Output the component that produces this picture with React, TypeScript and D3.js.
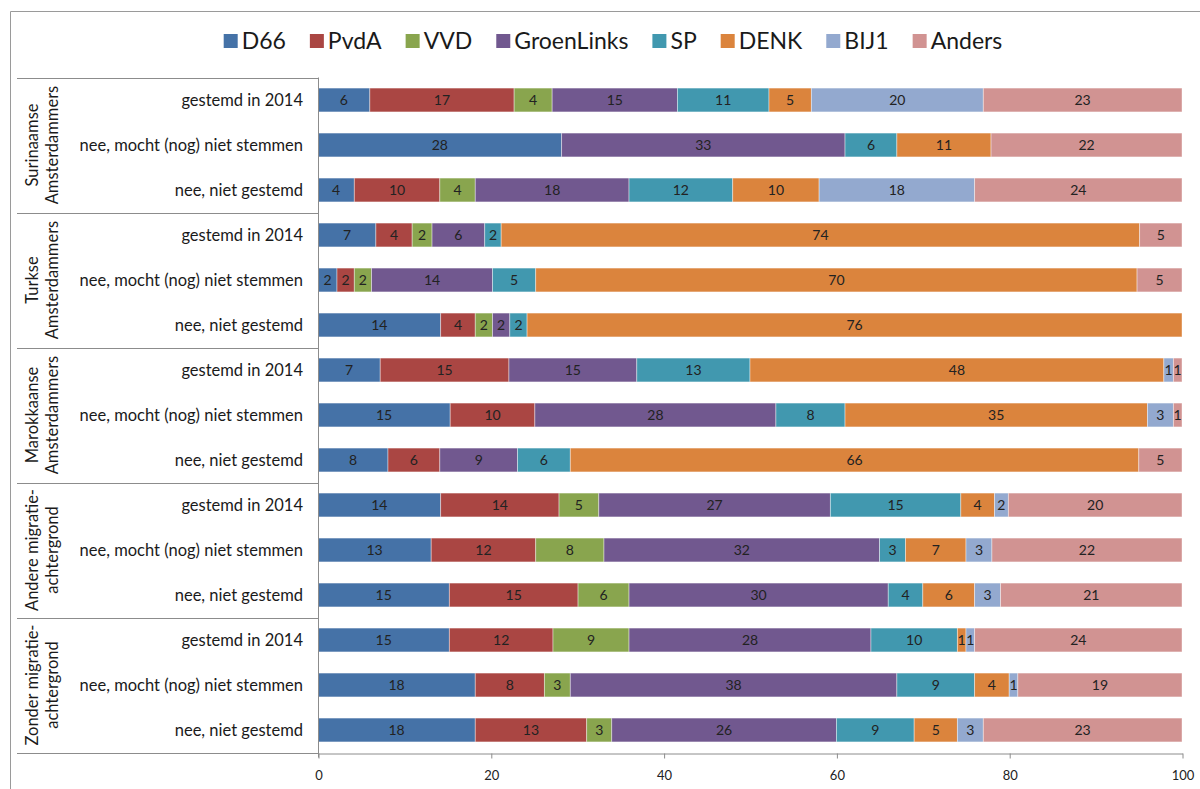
import React, { useRef, useEffect } from "react";
import * as d3 from "d3";

const parties = ["D66", "PvdA", "VVD", "GroenLinks", "SP", "DENK", "BIJ1", "Anders"];
const partyColors = ["#4572A7", "#AA4643", "#89A54E", "#71588F", "#4198AF", "#DB843D", "#93A9CF", "#D19392"];

const groups = [
  ["Surinaamse", "Amsterdammers"],
  ["Turkse", "Amsterdammers"],
  ["Marokkaanse", "Amsterdammers"],
  ["Andere migratie-", "achtergrond"],
  ["Zonder migratie-", "achtergrond"],
];
const answers = ["gestemd in 2014", "nee, mocht (nog) niet stemmen", "nee, niet gestemd"];

// percentages per answer, in party order
const surinaamse = [
  [6.0, 16.7, 4.4, 14.5, 10.6, 4.9, 19.9, 23.0],
  [28.2, 0, 0, 32.8, 6.0, 10.9, 0, 22.1],
  [4.2, 9.9, 4.1, 17.8, 12.0, 10.0, 18.0, 24.0],
];
const turkse = [
  [6.7, 4.2, 2.3, 6.1, 1.9, 73.9, 0, 4.9],
  [2.2, 2.0, 2.0, 14.0, 5.0, 69.6, 0, 5.2],
  [14.2, 4.0, 2.0, 2.0, 2.0, 75.8, 0, 0],
];
const marokkaanse = [
  [7.2, 14.9, 0, 14.8, 13.1, 47.9, 1.1, 1.0],
  [15.3, 9.8, 0, 27.9, 8.0, 35.0, 3.0, 1.0],
  [8.1, 6.0, 0, 9.0, 6.1, 65.8, 0, 5.0],
];
const andere = [
  [14.2, 13.7, 4.6, 26.8, 15.1, 3.9, 1.6, 20.1],
  [13.1, 12.1, 7.9, 31.9, 3.0, 7.0, 3.0, 22.0],
  [15.2, 14.9, 5.9, 30.0, 4.0, 6.0, 3.0, 21.0],
];
const zonder = [
  [15.2, 12.0, 8.8, 28.0, 10.0, 1.0, 1.0, 24.0],
  [18.2, 8.0, 3.0, 37.8, 9.0, 4.0, 1.0, 19.0],
  [18.2, 12.9, 2.9, 26.0, 9.0, 5.0, 3.0, 23.0],
];
const groupValues = [surinaamse, turkse, marokkaanse, andere, zonder];
const xTicks = [0, 20, 40, 60, 80, 100];

const W = 1200;
const H = 789;
const FONT = "Lato, 'Open Sans', sans-serif";

export default function App() {
  const svgRef = useRef(null);

  useEffect(() => {
    const svg = d3.select(svgRef.current);
    svg.selectAll("*").remove();

    const left = 318;
    const right = 1182;
    const top = 77.5;
    const bottom = 752.5;

    // flatten rows
    const rows = [];
    groupValues.forEach((g, gi) =>
      g.forEach((vals, ai) => rows.push({ id: `${gi}-${ai}`, group: gi, answer: answers[ai], vals }))
    );

    const x = d3.scaleLinear().domain([0, 100]).range([left, right]);
    const y = d3
      .scaleBand()
      .domain(rows.map((r) => r.id))
      .range([top, bottom])
      .paddingInner(0.47)
      .paddingOuter(0.235);

    // outer frame
    svg
      .append("path")
      .attr("d", `M10.5,${H} V11.5 H${W}`)
      .attr("fill", "none")
      .attr("stroke", "#9a9a9a");

    // bars
    const stack = d3.stack().keys(d3.range(parties.length)).value((r, k) => r.vals[k]);
    const series = stack(rows);

    const layer = svg
      .selectAll("g.layer")
      .data(series)
      .join("g")
      .attr("class", "layer")
      .attr("fill", (d, i) => partyColors[i]);

    layer
      .selectAll("rect")
      .data((d) => d.filter((s) => s[1] - s[0] > 0))
      .join("rect")
      .attr("x", (d) => x(d[0]))
      .attr("y", (d) => y(d.data.id))
      .attr("width", (d) => x(d[1]) - x(d[0]))
      .attr("height", y.bandwidth())
      .attr("stroke", "#ffffff")
      .attr("stroke-opacity", 0.5)
      .attr("stroke-width", 0.8);

    layer
      .selectAll("text")
      .data((d) => d.filter((s) => s[1] - s[0] > 0))
      .join("text")
      .attr("x", (d) => (x(d[0]) + x(d[1])) / 2)
      .attr("y", (d) => y(d.data.id) + y.bandwidth() / 2)
      .attr("dy", "0.36em")
      .attr("text-anchor", "middle")
      .attr("fill", "#222")
      .style("font-family", FONT)
      .style("font-size", "14px")
      .text((d) => Math.round(d[1] - d[0]));

    // category axis
    const catAxis = svg.append("g");
    catAxis
      .selectAll("text")
      .data(rows)
      .join("text")
      .attr("x", 303)
      .attr("y", (d) => y(d.id) + y.bandwidth() / 2)
      .attr("dy", "0.35em")
      .attr("text-anchor", "end")
      .attr("fill", "#1a1a1a")
      .style("font-family", FONT)
      .style("font-size", "16.5px")
      .text((d) => d.answer);

    const groupEdges = d3.range(groups.length + 1).map((i) => top + (i * (bottom - top)) / groups.length);
    catAxis
      .selectAll("line")
      .data(groupEdges)
      .join("line")
      .attr("x1", 17)
      .attr("x2", left)
      .attr("y1", (d) => Math.round(d) + 0.5)
      .attr("y2", (d) => Math.round(d) + 0.5)
      .attr("stroke", "#8c8c8c");

    const groupLabels = catAxis
      .selectAll("g.grp")
      .data(groups)
      .join("g")
      .attr("class", "grp")
      .attr("transform", (d, i) => `translate(42,${(groupEdges[i] + groupEdges[i + 1]) / 2}) rotate(-90)`);
    groupLabels
      .selectAll("text")
      .data((d) => d)
      .join("text")
      .attr("x", 0)
      .attr("y", (d, i) => (i === 0 ? -10 : 10))
      .attr("dy", "0.35em")
      .attr("text-anchor", "middle")
      .attr("fill", "#1a1a1a")
      .style("font-family", FONT)
      .style("font-size", "16.5px")
      .text((d) => d);

    // vertical axis line
    svg
      .append("line")
      .attr("x1", left + 0.5)
      .attr("x2", left + 0.5)
      .attr("y1", top)
      .attr("y2", bottom + 5)
      .attr("stroke", "#8c8c8c");

    // value axis
    const xAxis = svg
      .append("g")
      .attr("transform", `translate(0.5,${Math.round(bottom) + 0.5})`)
      .call(d3.axisBottom(x).tickValues(xTicks).tickSize(5).tickSizeOuter(0).tickPadding(12));
    xAxis.select(".domain").attr("stroke", "#8c8c8c");
    xAxis.selectAll(".tick line").attr("stroke", "#8c8c8c");
    xAxis
      .selectAll(".tick text")
      .attr("fill", "#222")
      .style("font-family", FONT)
      .style("font-size", "13px");

    // legend
    const legend = svg.append("g").attr("transform", "translate(0,41)");
    const items = legend
      .selectAll("g")
      .data(parties)
      .join("g");
    items
      .append("rect")
      .attr("x", 0)
      .attr("y", -7)
      .attr("width", 14)
      .attr("height", 14)
      .attr("fill", (d, i) => partyColors[i]);
    items
      .append("text")
      .attr("x", 18)
      .attr("dy", "0.35em")
      .attr("fill", "#1a1a1a")
      .style("font-family", FONT)
      .style("font-size", "23px")
      .text((d) => d);
    const widths = [];
    items.each(function () {
      widths.push(18 + d3.select(this).select("text").node().getComputedTextLength());
    });
    const gap = 24;
    const total = d3.sum(widths) + gap * (widths.length - 1);
    let cx = 613 - total / 2;
    items.attr("transform", (d, i) => {
      const t = `translate(${cx},0)`;
      cx += widths[i] + gap;
      return t;
    });
  }, []);

  return (
    <svg
      ref={svgRef}
      width={W}
      height={H}
      style={{ position: "absolute", left: 0, top: 0, background: "#fff" }}
    ></svg>
  );
}
